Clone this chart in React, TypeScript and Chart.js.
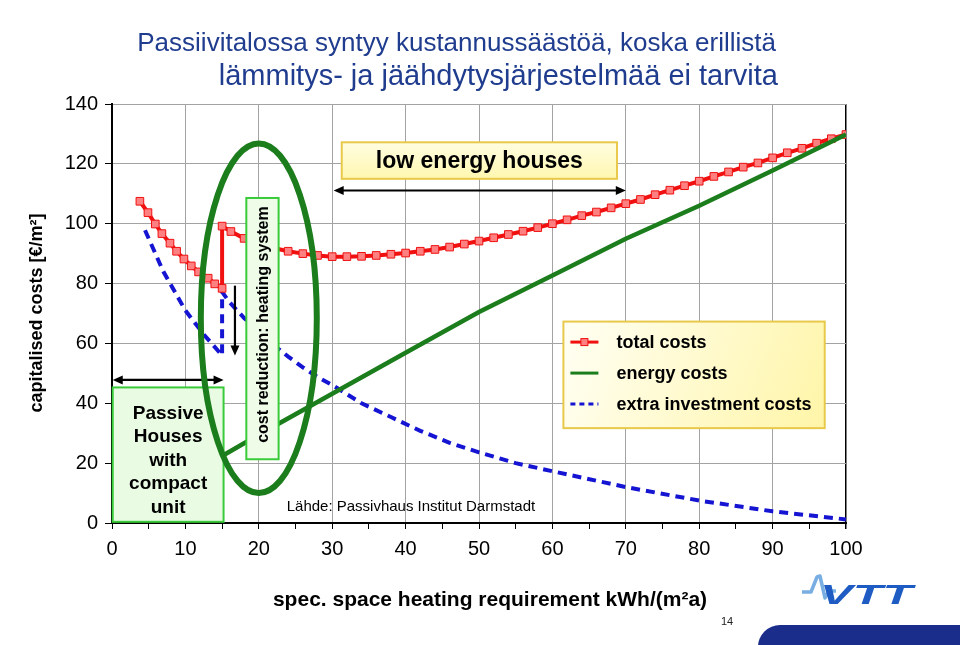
import React, { useEffect, useRef } from 'react';
import { Chart, registerables } from 'chart.js';

Chart.register(...registerables);

const FONT = '"Liberation Sans", Arial, Helvetica, sans-serif';

// ---- texts ----
const titleLines = [
  'Passiivitalossa syntyy kustannussäästöä, koska erillistä',
  'lämmitys- ja jäähdytysjärjestelmää ei tarvita',
];
const xAxisTitle = 'spec. space heating requirement kWh/(m²a)';
const yAxisTitle = 'capitalised costs [€/m²]';
const seriesNames = ['total costs', 'energy costs', 'extra investment costs'];
const passiveLines = ['Passive', 'Houses', 'with', 'compact', 'unit'];
const costReductionText = 'cost reduction: heating system';
const lowEnergyText = 'low energy houses';
const sourceText = 'Lähde: Passivhaus Institut Darmstadt';
const pageNumber = '14';
const logoText = 'VTT';

// ---- ticks ----
const xTicks = [0, 5, 10, 15, 20, 25, 30, 35, 40, 45, 50, 55, 60, 65, 70, 75, 80, 85, 90, 95, 100];
const xLabelTicks = [0, 10, 20, 30, 40, 50, 60, 70, 80, 90, 100];
const yTicks = [0, 20, 40, 60, 80, 100, 120, 140];

// ---- data ----
const totalX = [
  3.8, 4.9, 5.9, 6.8, 7.9, 8.8, 9.8, 10.8, 11.8, 13.1, 14, 15,
  15, 16.2, 18, 20, 22, 24, 26, 28, 30, 32, 34, 36, 38, 40, 42, 44, 46, 48, 50,
  52, 54, 56, 58, 60, 62, 64, 66, 68, 70, 72, 74, 76, 78, 80, 82, 84, 86, 88, 90,
  92, 94, 96, 98, 100,
];
const totalY = [
  107.5, 103.7, 99.9, 96.7, 93.5, 90.8, 88.2, 85.9, 83.9, 81.8, 79.9, 78.4,
  99.2, 97.4, 95.1, 93.3, 91.9, 90.8, 90.0, 89.4, 89.0, 89.0, 89.1, 89.4, 89.8, 90.2, 90.8, 91.4, 92.2, 93.2, 94.2,
  95.3, 96.4, 97.5, 98.7, 100.0, 101.3, 102.7, 103.9, 105.3, 106.7, 108.1, 109.7, 111.2, 112.7, 114.2, 115.8, 117.3, 118.9, 120.3, 122.0,
  123.7, 125.2, 126.9, 128.4, 129.8,
];

const energyX = [4, 15, 20, 30, 40, 50, 60, 70, 80, 90, 100];
const energyY = [6.5, 22.4, 29.5, 43.2, 56.9, 70.5, 82.7, 95.0, 106.0, 117.8, 129.8];

const investX = [
  4.5, 7, 10, 12.5, 15,
  15, 16, 18, 20, 22, 24, 26, 28, 30, 34, 38, 42, 46, 50, 55, 60, 70, 80, 90, 100, 102.5,
];
const investY = [
  97.8, 84, 71, 63, 56,
  77.2, 73.8, 68.5, 64, 59.5, 55.6, 52, 48.8, 46.1, 40.0, 35.4, 30.8, 26.8, 23.6, 20.0, 17.3, 12.0, 7.5, 3.9, 1.2, 0.3,
];

const toPts = (xs: number[], ys: number[]) => xs.map((x, i) => ({ x, y: ys[i] }));

const RED = '#F01010';
const RED_FILL = '#FF8080';
const GREEN = '#1B7D1B';
const BLUE = '#1414D2';

function doubleArrow(ctx: CanvasRenderingContext2D, x1: number, x2: number, y: number) {
  const h = 10, w = 4.5;
  ctx.save();
  ctx.strokeStyle = '#000';
  ctx.fillStyle = '#000';
  ctx.lineWidth = 2.2;
  ctx.beginPath();
  ctx.moveTo(x1 + h - 2, y);
  ctx.lineTo(x2 - h + 2, y);
  ctx.stroke();
  ctx.beginPath();
  ctx.moveTo(x1, y);
  ctx.lineTo(x1 + h, y - w);
  ctx.lineTo(x1 + h, y + w);
  ctx.closePath();
  ctx.fill();
  ctx.beginPath();
  ctx.moveTo(x2, y);
  ctx.lineTo(x2 - h, y - w);
  ctx.lineTo(x2 - h, y + w);
  ctx.closePath();
  ctx.fill();
  ctx.restore();
}

const annotations = {
  id: 'annotations',
  afterDraw(chart: any) {
    const ctx: CanvasRenderingContext2D = chart.ctx;
    const xs = chart.scales.x;
    const ys = chart.scales.y;
    const X = (v: number) => xs.getPixelForValue(v);
    const Y = (v: number) => ys.getPixelForValue(v);
    const ux = X(1) - X(0);
    const uy = Y(0) - Y(1);

    ctx.save();

    // Passive house box
    {
      const l = X(0.1), r = X(15.2), t = Y(45.3), b = Y(0.4);
      ctx.fillStyle = '#E9FBE3';
      ctx.fillRect(l, t, r - l, b - t);
      ctx.strokeStyle = '#3ACB3A';
      ctx.lineWidth = 2;
      ctx.strokeRect(l, t, r - l, b - t);
      ctx.fillStyle = '#000';
      ctx.font = `bold 19px ${FONT}`;
      ctx.textAlign = 'center';
      ctx.textBaseline = 'middle';
      passiveLines.forEach((s, i) => ctx.fillText(s, (l + r) / 2, t + 26 + i * 23.5));
      doubleArrow(ctx, l, r, Y(47.8));
    }

    // Cost reduction box (vertical text)
    {
      const l = X(18.3), r = X(22.7), t = Y(108.6), b = Y(21.3);
      ctx.fillStyle = '#EEFCE8';
      ctx.fillRect(l, t, r - l, b - t);
      ctx.strokeStyle = '#3ACB3A';
      ctx.lineWidth = 2;
      ctx.strokeRect(l, t, r - l, b - t);
      ctx.save();
      ctx.translate((l + r) / 2 + 1, (t + b) / 2 - 4);
      ctx.rotate(-Math.PI / 2);
      ctx.fillStyle = '#000';
      ctx.font = `bold 16px ${FONT}`;
      ctx.textAlign = 'center';
      ctx.textBaseline = 'middle';
      ctx.fillText(costReductionText, 0, 0);
      ctx.restore();
    }

    // vertical arrow (cost reduction)
    {
      const x = X(16.75), y1 = Y(79.3), y2 = Y(56.0);
      ctx.strokeStyle = '#000';
      ctx.fillStyle = '#000';
      ctx.lineWidth = 2.2;
      ctx.beginPath();
      ctx.moveTo(x, y1);
      ctx.lineTo(x, y2 - 8);
      ctx.stroke();
      ctx.beginPath();
      ctx.moveTo(x, y2);
      ctx.lineTo(x - 4.5, y2 - 10);
      ctx.lineTo(x + 4.5, y2 - 10);
      ctx.closePath();
      ctx.fill();
    }

    // big green ellipse
    {
      ctx.strokeStyle = GREEN;
      ctx.lineWidth = 6;
      ctx.beginPath();
      ctx.ellipse(X(20.0), Y(68.4), 7.9 * ux, 58.4 * uy, 0, 0, Math.PI * 2);
      ctx.stroke();
    }

    // low energy houses box
    {
      const l = X(31.3), r = X(68.8), t = Y(127.2), b = Y(115.0);
      const g = ctx.createLinearGradient(0, t, 0, b);
      g.addColorStop(0, '#FFFDE0');
      g.addColorStop(1, '#FFF7B0');
      ctx.fillStyle = g;
      ctx.fillRect(l, t, r - l, b - t);
      ctx.strokeStyle = '#E8C94A';
      ctx.lineWidth = 2;
      ctx.strokeRect(l, t, r - l, b - t);
      ctx.fillStyle = '#000';
      ctx.font = `bold 23px ${FONT}`;
      ctx.textAlign = 'center';
      ctx.textBaseline = 'middle';
      ctx.fillText(lowEnergyText, (l + r) / 2, (t + b) / 2 + 1);
      doubleArrow(ctx, X(30.2), X(70.0), Y(111.1));
    }

    // legend
    {
      const l = X(61.5), r = X(97.1), t = Y(67.3), b = Y(31.7);
      const g = ctx.createLinearGradient(l, t, r, b);
      g.addColorStop(0, '#FFFFF4');
      g.addColorStop(1, '#FFF5A8');
      ctx.fillStyle = g;
      ctx.fillRect(l, t, r - l, b - t);
      ctx.strokeStyle = '#E8C94A';
      ctx.lineWidth = 2;
      ctx.strokeRect(l, t, r - l, b - t);
      const rows = [t + 20.5, t + 51.5, t + 82.5];
      const sx1 = l + 7, sx2 = l + 35, tx = l + 53;
      // total
      ctx.strokeStyle = RED;
      ctx.lineWidth = 3;
      ctx.beginPath();
      ctx.moveTo(sx1, rows[0]);
      ctx.lineTo(sx2, rows[0]);
      ctx.stroke();
      ctx.fillStyle = RED_FILL;
      ctx.fillRect((sx1 + sx2) / 2 - 3.5, rows[0] - 3.5, 7, 7);
      ctx.lineWidth = 1;
      ctx.strokeRect((sx1 + sx2) / 2 - 3.5, rows[0] - 3.5, 7, 7);
      // energy
      ctx.strokeStyle = GREEN;
      ctx.lineWidth = 3;
      ctx.beginPath();
      ctx.moveTo(sx1, rows[1]);
      ctx.lineTo(sx2, rows[1]);
      ctx.stroke();
      // investment
      ctx.strokeStyle = BLUE;
      ctx.lineWidth = 3;
      ctx.setLineDash([5, 4]);
      ctx.beginPath();
      ctx.moveTo(sx1, rows[2]);
      ctx.lineTo(sx2, rows[2]);
      ctx.stroke();
      ctx.setLineDash([]);
      ctx.fillStyle = '#000';
      ctx.font = `bold 18px ${FONT}`;
      ctx.textAlign = 'left';
      ctx.textBaseline = 'middle';
      seriesNames.forEach((s, i) => ctx.fillText(s, tx, rows[i] + 1));
    }

    // source text
    ctx.fillStyle = '#000';
    ctx.font = `15px ${FONT}`;
    ctx.textAlign = 'left';
    ctx.textBaseline = 'middle';
    ctx.fillText(sourceText, X(23.8), Y(5.5));

    // title
    ctx.fillStyle = '#1F3C8E';
    ctx.font = `26px ${FONT}`;
    ctx.textAlign = 'right';
    ctx.textBaseline = 'middle';
    ctx.fillText(titleLines[0], 776, 44);
    ctx.font = `29px ${FONT}`;
    ctx.fillText(titleLines[1], 778, 77);

    // axis titles
    ctx.fillStyle = '#000';
    ctx.font = `bold 21px ${FONT}`;
    ctx.textAlign = 'center';
    ctx.fillText(xAxisTitle, 490, 600);
    ctx.save();
    ctx.translate(37, 313);
    ctx.rotate(-Math.PI / 2);
    ctx.font = `bold 18px ${FONT}`;
    ctx.fillText(yAxisTitle, 0, 0);
    ctx.restore();

    // page number
    ctx.fillStyle = '#222';
    ctx.font = `11px ${FONT}`;
    ctx.fillText(pageNumber, 727, 622);

    // bottom blue bar
    ctx.fillStyle = '#1B2D8A';
    ctx.beginPath();
    (ctx as any).roundRect(758, 625, 230, 40, [22, 0, 0, 0]);
    ctx.fill();

    // VTT logo
    ctx.strokeStyle = '#78AEE2';
    ctx.lineWidth = 3.5;
    ctx.lineJoin = 'round';
    ctx.beginPath();
    ctx.moveTo(802, 592);
    ctx.lineTo(811, 592);
    ctx.lineTo(817, 577);
    ctx.lineTo(820, 576);
    ctx.lineTo(825, 598);
    ctx.lineTo(829, 591);
    ctx.lineTo(836, 591);
    ctx.stroke();
    ctx.save();
    ctx.translate(820, 596);
    ctx.scale(1.75, 1);
    ctx.fillStyle = '#1E5CC4';
    ctx.font = `italic bold 28px ${FONT}`;
    ctx.textAlign = 'left';
    ctx.textBaseline = 'middle';
    ctx.fillText(logoText, 0, 0);
    ctx.restore();

    ctx.restore();
  },
};

export default function App() {
  const ref = useRef<HTMLCanvasElement>(null);

  useEffect(() => {
    if (!ref.current) return;
    Chart.defaults.font.family = FONT;
    const chart = new Chart(ref.current, {
      type: 'scatter',
      data: {
        datasets: [
          {
            label: seriesNames[1],
            data: toPts(energyX, energyY),
            showLine: true,
            borderColor: GREEN,
            borderWidth: 4.5,
            pointRadius: 0,
            order: 0,
          },
          {
            label: seriesNames[0],
            data: toPts(totalX, totalY),
            showLine: true,
            borderColor: RED,
            borderWidth: 4,
            pointStyle: 'rect',
            pointRadius: 5.4,
            pointBackgroundColor: RED_FILL,
            pointBorderColor: RED,
            pointBorderWidth: 1,
            order: 1,
          },
          {
            label: seriesNames[2],
            data: toPts(investX, investY),
            showLine: true,
            borderColor: BLUE,
            borderWidth: 4,
            borderDash: [9, 6],
            pointRadius: 0,
            clip: false as any,
            order: 2,
          },
        ],
      },
      options: {
        responsive: false,
        animation: false,
        devicePixelRatio: 1,
        layout: { padding: { left: 0, top: 104, right: 114, bottom: 0 } },
        plugins: {
          legend: { display: false },
          tooltip: { enabled: false },
          title: { display: false },
        },
        scales: {
          x: {
            type: 'linear',
            min: 0,
            max: 100,
            afterBuildTicks: (scale: any) => {
              scale.ticks = xTicks.map((v) => ({ value: v }));
            },
            afterFit: (scale: any) => {
              scale.height = 122;
            },
            ticks: {
              autoSkip: false,
              maxRotation: 0,
              color: '#000',
              font: { size: 20 },
              padding: 8,
              callback: (v: any) => (xLabelTicks.includes(Number(v)) ? String(v) : ''),
            },
            grid: {
              color: (c: any) => {
                const v = c.tick ? c.tick.value : 0;
                if (v === 100) return '#000';
                return xLabelTicks.includes(v) ? '#A3A3A3' : 'rgba(0,0,0,0)';
              },
              lineWidth: (c: any) => (c.tick && c.tick.value === 100 ? 1.5 : 1),
              tickColor: '#000',
              tickLength: 6,
              drawTicks: true,
            },
            border: { color: '#000', width: 2 },
          },
          y: {
            type: 'linear',
            min: 0,
            max: 140,
            afterBuildTicks: (scale: any) => {
              scale.ticks = yTicks.map((v) => ({ value: v }));
            },
            afterFit: (scale: any) => {
              scale.width = 112;
            },
            ticks: {
              color: '#000',
              font: { size: 20 },
              padding: 7,
            },
            grid: {
              color: '#A3A3A3',
              lineWidth: 1,
              tickColor: '#000',
              tickLength: 7,
              drawTicks: true,
            },
            border: { color: '#000', width: 2 },
          },
        },
      },
      plugins: [annotations],
    });
    return () => chart.destroy();
  }, []);

  return (
    <div style={{ position: 'fixed', left: 0, top: 0, width: 960, height: 645, background: '#fff' }}>
      <canvas ref={ref} width={960} height={645} style={{ display: 'block', width: 960, height: 645 }} />
    </div>
  );
}
